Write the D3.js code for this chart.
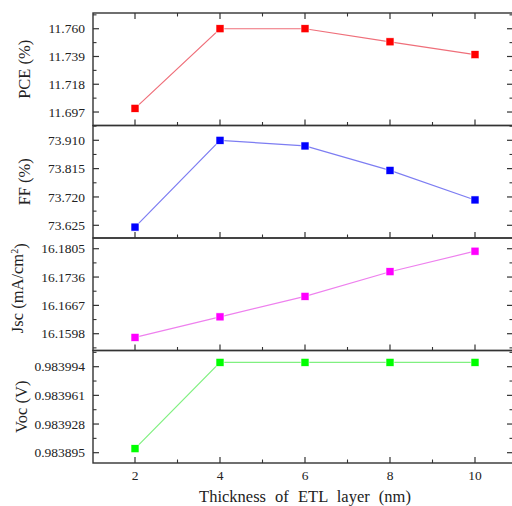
<!DOCTYPE html>
<html><head><meta charset="utf-8">
<script src="https://cdn.jsdelivr.net/npm/d3@7"></script>
<style>body{margin:0;background:#fff}svg{display:block}text{font-family:"Liberation Serif","DejaVu Serif",serif}</style>
</head><body>
<svg id="c" width="512" height="506"></svg>
<script>
// ---- data ----
const thickness = [2, 4, 6, 8, 10];
const pce = [11.6998, 11.7600, 11.7600, 11.7501, 11.7404];
const ff = [73.619, 73.910, 73.891, 73.809, 73.710];
const jsc = [16.1589, 16.1639, 16.1689, 16.1749, 16.1799];
const voc = [0.9838996, 0.983999, 0.983999, 0.983999, 0.983999];
const pceTicks = [11.697, 11.718, 11.739, 11.760];
const ffTicks = [73.625, 73.720, 73.815, 73.910];
const jscTicks = [16.1598, 16.1667, 16.1736, 16.1805];
const vocTicks = [0.983895, 0.983928, 0.983961, 0.983994];
const xTicks = [2, 4, 6, 8, 10];
const xMinor = [3, 5, 7, 9];
const pceDomain = [11.6868, 11.7719];
const ffDomain = [73.5824, 73.9596];
const jscDomain = [16.15571, 16.18311];
const vocDomain = [0.98388314, 0.98401265];

const panels = [
  {vals: pce, ticks: pceTicks, dom: pceDomain, dec: 3, title: "PCE (%)", col: "#ff0000", line: "#ef6f7a", tx: 24},
  {vals: ff, ticks: ffTicks, dom: ffDomain, dec: 3, title: "FF (%)", col: "#0000ff", line: "#7d7df2", tx: 24},
  {vals: jsc, ticks: jscTicks, dom: jscDomain, dec: 4, title: "Jsc", col: "#ff00ff", line: "#ee80ee", tx: 17},
  {vals: voc, ticks: vocTicks, dom: vocDomain, dec: 6, title: "Voc (V)", col: "#00ff00", line: "#80f080", tx: 21}
];

const svg = d3.select("#c");
const L = 93, R = 513, top0 = 13, ph = 112.5;
const x = d3.scaleLinear().domain([2, 10]).range([135, 475]);
const frameCol = "#333";

panels.forEach((p, i) => {
  const t = top0 + i * ph, b = t + ph;
  const y = d3.scaleLinear().domain(p.dom).range([b, t]);
  const g = svg.append("g");
  g.append("rect").attr("x", L).attr("y", t).attr("width", R - L).attr("height", ph)
    .attr("fill", "none").attr("stroke", frameCol).attr("stroke-width", 1.4);
  const step = p.ticks[1] - p.ticks[0];
  const minors = [];
  for (let k = -3; k < 8; k++) {
    const v = p.ticks[0] + (k + 0.5) * step;
    if (v > p.dom[0] && v < p.dom[1]) minors.push(v);
  }
  p.ticks.forEach(v => {
    const yy = y(v);
    g.append("line").attr("x1", L).attr("x2", L + 6).attr("y1", yy).attr("y2", yy).attr("stroke", frameCol).attr("stroke-width", 1.2);
    g.append("line").attr("x1", R).attr("x2", R - 6).attr("y1", yy).attr("y2", yy).attr("stroke", frameCol).attr("stroke-width", 1.2);
    g.append("text").attr("x", 85).attr("y", yy).attr("dy", "0.35em").attr("text-anchor", "end")
      .attr("font-size", 13.5).attr("fill", "#222").text(v.toFixed(p.dec));
  });
  minors.forEach(v => {
    const yy = y(v);
    g.append("line").attr("x1", L).attr("x2", L + 3.5).attr("y1", yy).attr("y2", yy).attr("stroke", frameCol).attr("stroke-width", 1.1);
    g.append("line").attr("x1", R).attr("x2", R - 3.5).attr("y1", yy).attr("y2", yy).attr("stroke", frameCol).attr("stroke-width", 1.1);
  });
  xTicks.forEach(v => {
    g.append("line").attr("x1", x(v)).attr("x2", x(v)).attr("y1", b).attr("y2", b - 6).attr("stroke", frameCol).attr("stroke-width", 1.2);
    if (i === 0) g.append("line").attr("x1", x(v)).attr("x2", x(v)).attr("y1", t).attr("y2", t + 6).attr("stroke", frameCol).attr("stroke-width", 1.2);
  });
  xMinor.forEach(v => {
    g.append("line").attr("x1", x(v)).attr("x2", x(v)).attr("y1", b).attr("y2", b - 3.5).attr("stroke", frameCol).attr("stroke-width", 1.1);
    if (i === 0) g.append("line").attr("x1", x(v)).attr("x2", x(v)).attr("y1", t).attr("y2", t + 3.5).attr("stroke", frameCol).attr("stroke-width", 1.1);
  });
  const ln = d3.line().x((d, j) => x(thickness[j])).y(d => y(d));
  g.append("path").datum(p.vals).attr("d", ln).attr("fill", "none").attr("stroke", p.line).attr("stroke-width", 1.2);
  g.selectAll("rect.m").data(p.vals).enter().append("rect").attr("class", "m")
    .attr("x", (d, j) => x(thickness[j]) - 4).attr("y", d => y(d) - 4)
    .attr("width", 8).attr("height", 8).attr("fill", p.col)
    .attr("stroke", "#fff").attr("stroke-width", 0.6);
  const cy = (t + b) / 2 + (i === 2 ? -6 : 0);
  const tt = g.append("text").attr("transform", `translate(${p.tx},${cy}) rotate(-90)`)
    .attr("text-anchor", "middle").attr("dy", "0.35em")
    .attr("font-size", 16.5).attr("fill", "#222");
  if (i === 2) {
    tt.append("tspan").text("Jsc (mA/cm");
    tt.append("tspan").attr("dy", "-0.5em").attr("font-size", 10).text("2");
    tt.append("tspan").attr("dy", "0.5em").text(")");
  } else {
    tt.text(p.title);
  }
});

xTicks.forEach(v => {
  svg.append("text").attr("x", x(v)).attr("y", 480).attr("text-anchor", "middle")
    .attr("font-size", 13.5).attr("fill", "#222").text(v);
});
svg.append("text").attr("x", 305).attr("y", 502).attr("text-anchor", "middle")
  .attr("font-size", 16.5).attr("word-spacing", "5px").attr("fill", "#222")
  .text("Thickness of ETL layer (nm)");
</script>
</body></html>
